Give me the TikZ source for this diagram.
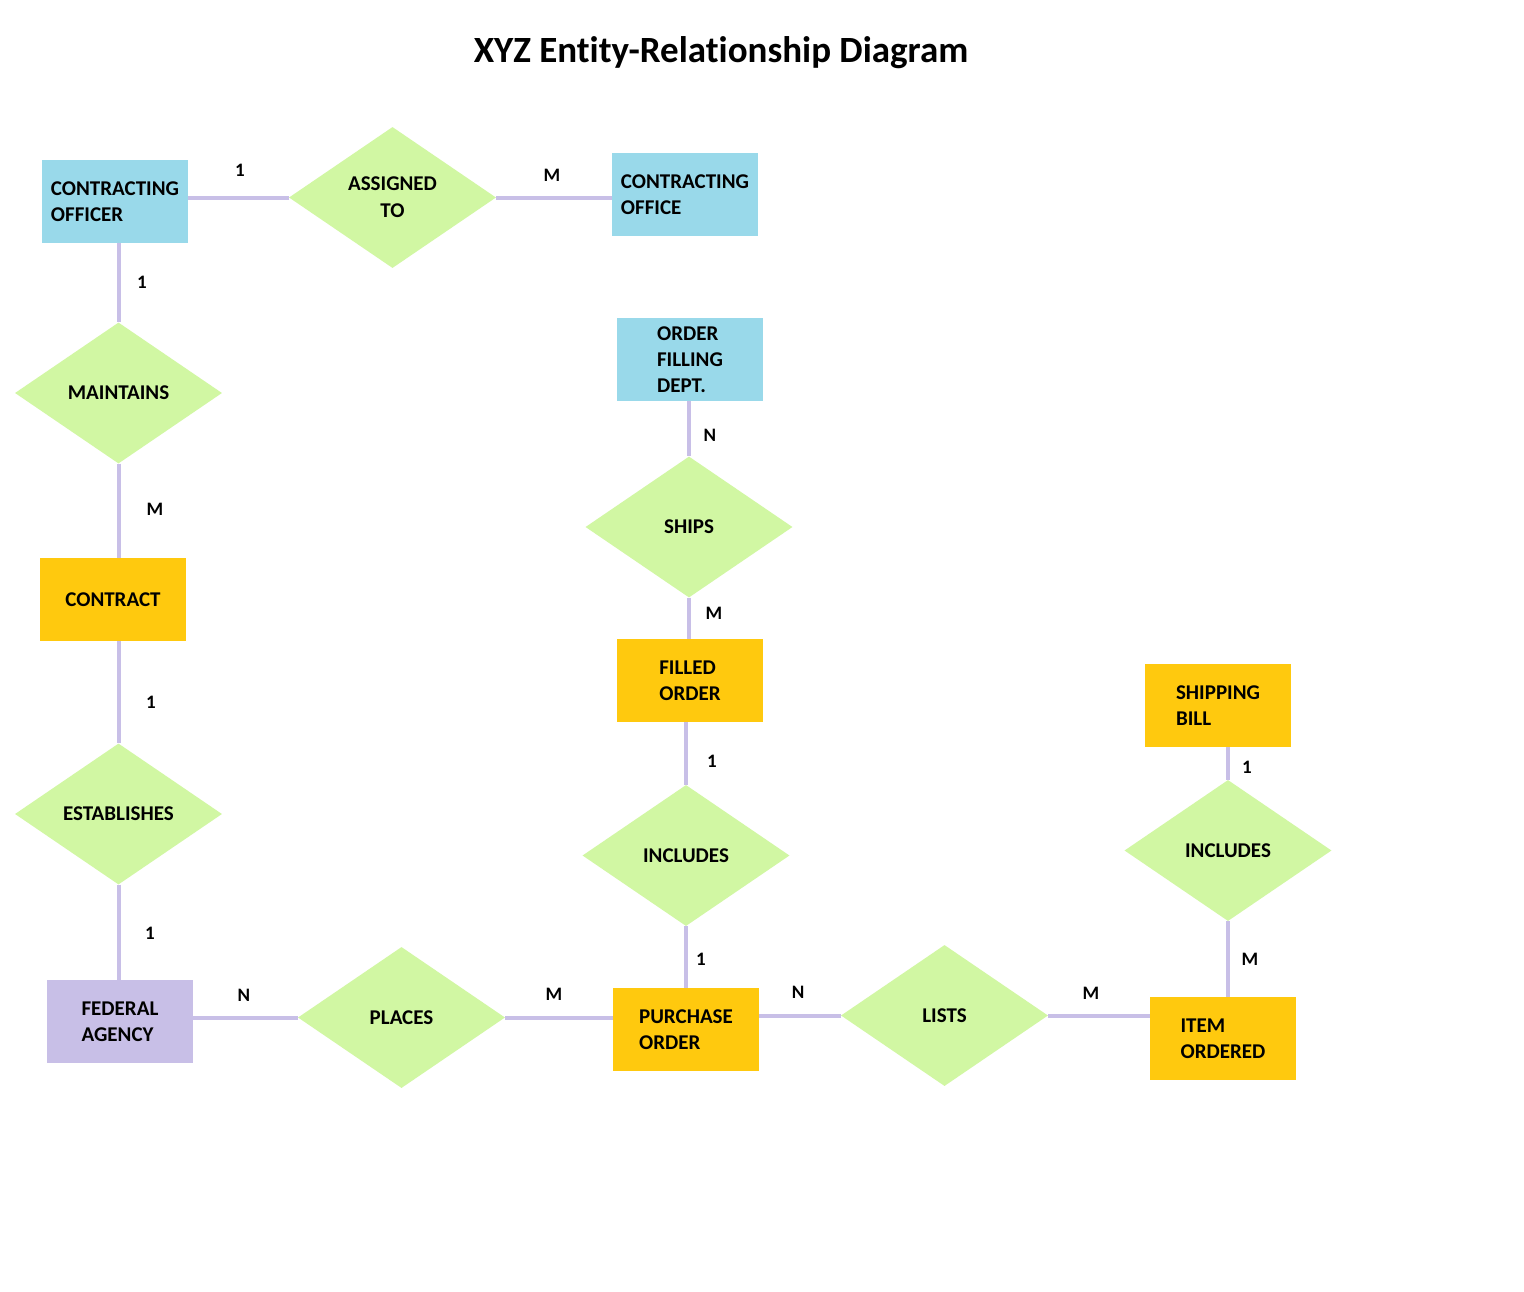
\documentclass[tikz,border=0pt]{standalone}
\usepackage{fontspec}
\setmainfont[Ligatures=NoCommon]{Carlito}
\usetikzlibrary{shapes.geometric}
\definecolor{entblue}{HTML}{99D9EA}
\definecolor{entgold}{HTML}{FFC90E}
\definecolor{entlav}{HTML}{C8BFE7}
\definecolor{relgreen}{HTML}{D1F7A3}
\begin{document}
\begin{tikzpicture}[x=1pt,y=-1pt,
        entity/.style={rectangle,minimum width=146pt,minimum height=83pt,inner sep=0pt,align=left,
            font=\bfseries\fontsize{21}{26}\selectfont},
        relation/.style={diamond,fill=relgreen,minimum width=207pt,minimum height=141pt,inner sep=0pt,align=center,
            font=\bfseries\fontsize{21}{27}\selectfont},
        link/.style={entlav,line width=4pt},
        card/.style={font=\bfseries\fontsize{19}{19}\selectfont,inner sep=0pt}]
        \useasboundingbox[fill=white] (0,0) rectangle (1524,1291);

        \node (title) at (721,53) {\bfseries\fontsize{37}{44}\selectfont XYZ Entity-Relationship Diagram};

        % entities
        \node[entity,fill=entblue] (coff) at (115,201.5) {CONTRACTING\\OFFICER};
        \node[entity,fill=entblue] (cofc) at (685,194.5) {CONTRACTING\\OFFICE};
        \node[entity,fill=entblue] (ofd) at (690,359.5) {ORDER\\FILLING\\DEPT.};
        \node[entity,fill=entgold] (ctr) at (113,599.5) {CONTRACT};
        \node[entity,fill=entgold] (fo) at (690,680.5) {FILLED\\ORDER};
        \node[entity,fill=entgold] (sb) at (1218,705.5) {SHIPPING\\BILL};
        \node[entity,fill=entlav] (fa) at (120,1021.5) {FEDERAL\\AGENCY};
        \node[entity,fill=entgold] (po) at (686,1029.5) {PURCHASE\\ORDER};
        \node[entity,fill=entgold] (io) at (1223,1038.5) {ITEM\\ORDERED};

        % relationships
        \node[relation] (asg) at (392.5,197.5) {ASSIGNED\\TO};
        \node[relation] (mnt) at (118.5,393) {MAINTAINS};
        \node[relation] (shp) at (689,527) {SHIPS};
        \node[relation] (est) at (118.5,814) {ESTABLISHES};
        \node[relation] (incm) at (686,855.5) {INCLUDES};
        \node[relation] (incr) at (1228,850.5) {INCLUDES};
        \node[relation] (plc) at (401.5,1017.5) {PLACES};
        \node[relation] (lst) at (944.5,1015.5) {LISTS};

        % connectors
        \draw[link] (asg.west -| coff.east) -- (asg.west);
        \draw[link] (asg.east) -- (asg.east -| cofc.west);
        \draw[link] (coff.south -| mnt.north) -- (mnt.north);
        \draw[link] (mnt.south) -- (mnt.south |- ctr.north);
        \draw[link] (ctr.south -| est.north) -- (est.north);
        \draw[link] (est.south) -- (est.south |- fa.north);
        \draw[link] (plc.west -| fa.east) -- (plc.west);
        \draw[link] (plc.east) -- (plc.east -| po.west);
        \draw[link] (lst.west -| po.east) -- (lst.west);
        \draw[link] (lst.east) -- (lst.east -| io.west);
        \draw[link] (ofd.south -| shp.north) -- (shp.north);
        \draw[link] (shp.south) -- (shp.south |- fo.north);
        \draw[link] (fo.south -| incm.north) -- (incm.north);
        \draw[link] (incm.south) -- (incm.south |- po.north);
        \draw[link] (sb.south -| incr.north) -- (incr.north);
        \draw[link] (incr.south) -- (incr.south |- io.north);

        % cardinalities
        \node[card] (c1) at (240,170) {1};
        \node[card] (c2) at (552,175) {M};
        \node[card] (c3) at (142,282) {1};
        \node[card] (c4) at (155,509) {M};
        \node[card] (c5) at (151,702) {1};
        \node[card] (c6) at (150,933) {1};
        \node[card] (c7) at (244,995) {N};
        \node[card] (c8) at (554,994) {M};
        \node[card] (c9) at (798,992) {N};
        \node[card] (c10) at (1091,993) {M};
        \node[card] (c11) at (710,435) {N};
        \node[card] (c12) at (714,613) {M};
        \node[card] (c13) at (712,761) {1};
        \node[card] (c14) at (701,959) {1};
        \node[card] (c15) at (1247,767) {1};
        \node[card] (c16) at (1250,959) {M};
    \end{tikzpicture}
\end{document}
